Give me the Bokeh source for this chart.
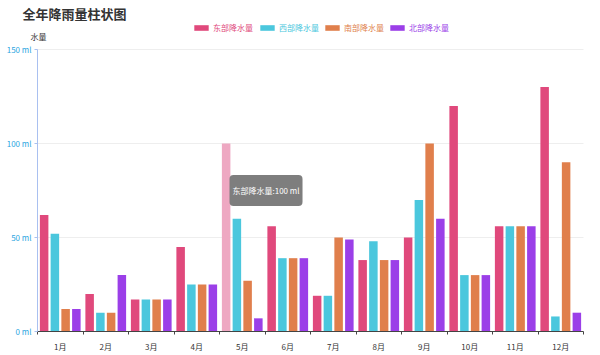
import numpy as np
from bokeh.plotting import figure
from bokeh.models import (ColumnDataSource, Range1d, FixedTicker, PrintfTickFormatter,
                          Legend, LegendItem, Label)
from bokeh.embed import file_html
from bokeh.resources import INLINE

# ---- data ----
months = ['1月', '2月', '3月', '4月', '5月', '6月', '7月', '8月', '9月', '10月', '11月', '12月']
series_names = ['东部降水量', '西部降水量', '南部降水量', '北部降水量']
east = [62, 20, 17, 45, 100, 56, 19, 38, 50, 120, 56, 130]
west = [52, 10, 17, 25, 60, 39, 19, 48, 70, 30, 56, 8]
south = [12, 10, 17, 25, 27, 39, 50, 38, 100, 30, 56, 90]
north = [12, 30, 17, 25, 7, 39, 49, 38, 60, 30, 56, 10]
y_ticks = [0, 50, 100, 150]
title_text = '全年降雨量柱状图'
y_name = '水量'
tooltip_text = '东部降水量:100 ml'
highlight_index = 4  # hovered bar (May, east)

# ---- style / layout ----
FONT = 'Noto Sans CJK SC'
colors = ['#e0497c', '#4bc7dd', '#e07f4c', '#9b3fe8']
highlight_color = '#eea8c2'
offsets = [-0.354, -0.118, 0.118, 0.354]
bar_w = 0.187
W, H = 600, 355
# plot area inside the figure (pixels): left, right, top, bottom
AL, AR, AT, AB = 37, 583, 49, 331
y_max = max(y_ticks)
n = len(months)
ppx = (AR - AL) / n
ppy = (AB - AT) / y_max

p = figure(width=W, height=H, title=None, output_backend='svg', toolbar_location=None,
           x_range=Range1d(-AL / ppx, n + (W - AR) / ppx),
           y_range=Range1d(-(H - AB) / ppy, y_max + AT / ppy),
           min_border_left=0, min_border_right=0, min_border_top=0, min_border_bottom=0)
p.outline_line_color = None
p.background_fill_color = 'white'
p.border_fill_color = 'white'
p.xgrid.visible = False
p.ygrid.visible = False

# horizontal grid lines over the category span
p.segment(x0=0, x1=n, y0=y_ticks, y1=y_ticks, line_color='#eeeeee', line_width=1)

centers = np.arange(n) + 0.5
all_series = [east, west, south, north]
renderers = []
for i, vals in enumerate(all_series):
    cols = [colors[i]] * len(vals)
    if i == 0:
        cols[highlight_index] = highlight_color
    src = ColumnDataSource(dict(x=centers + offsets[i], top=vals, color=cols))
    r = p.vbar(x='x', top='top', bottom=0, width=bar_w, fill_color='color',
               line_color=None, source=src)
    renderers.append(r)

# ---- axes (pinned at data 0) ----
p.yaxis.fixed_location = 0
p.yaxis.bounds = (0, y_max)
p.yaxis.ticker = FixedTicker(ticks=y_ticks)
p.yaxis.formatter = PrintfTickFormatter(format='%d ml')
p.yaxis.axis_line_color = '#a9c0f0'
p.yaxis.major_tick_line_color = '#a9c0f0'
p.yaxis.major_tick_out = 3
p.yaxis.major_tick_in = 0
p.yaxis.minor_tick_line_color = None
p.yaxis.major_label_standoff = 3
p.yaxis.major_label_text_font = FONT
p.yaxis.major_label_text_font_size = '8px'
p.yaxis.major_label_text_color = '#2ea6df'

p.xaxis.fixed_location = 0
p.xaxis.bounds = (0, n)
p.xaxis.ticker = FixedTicker(ticks=list(centers), minor_ticks=list(range(n + 1)))
p.xaxis.major_label_overrides = {float(c): m for c, m in zip(centers, months)}
p.xaxis.axis_line_color = '#444444'
p.xaxis.major_tick_out = 0
p.xaxis.major_tick_in = 0
p.xaxis.minor_tick_out = 3
p.xaxis.minor_tick_in = 0
p.xaxis.minor_tick_line_color = '#444444'
p.xaxis.major_label_standoff = 6
p.xaxis.major_label_text_font = FONT
p.xaxis.major_label_text_font_size = '8px'
p.xaxis.major_label_text_color = '#333333'

# ---- title and axis name ----
p.add_layout(Label(x=22, y=H - 13, x_units='screen', y_units='screen', text=title_text,
                   text_font=FONT, text_font_size='13px', text_font_style='bold',
                   text_color='#333333', text_baseline='middle'))
p.add_layout(Label(x=30, y=H - 36, x_units='screen', y_units='screen', text=y_name,
                   text_font=FONT, text_font_size='8px', text_color='#333333',
                   text_baseline='middle'))

# ---- legends (one per series so each label has its own colour) ----
legend_x = [192, 258, 323, 388]
for i, r in enumerate(renderers):
    leg = Legend(items=[LegendItem(label=series_names[i], renderers=[r])],
                 location=(legend_x[i], H - 33), orientation='horizontal',
                 padding=0, margin=0, spacing=0, glyph_width=18, glyph_height=7,
                 label_height=8, label_standoff=3, label_text_font=FONT,
                 label_text_font_size='8px', label_text_color=colors[i],
                 border_line_color=None, background_fill_alpha=0)
    p.add_layout(leg)

# ---- hover tooltip snapshot ----
p.add_layout(Label(x=4.22, y=75, text=tooltip_text, text_font=FONT, text_font_size='8px',
                   text_color='white', text_align='left', text_baseline='middle',
                   background_fill_color='#777777', background_fill_alpha=0.95,
                   border_radius=4, padding=dict(left=3, right=3, top=10, bottom=10)))

open('out.html', 'w').write(file_html(p, INLINE))
